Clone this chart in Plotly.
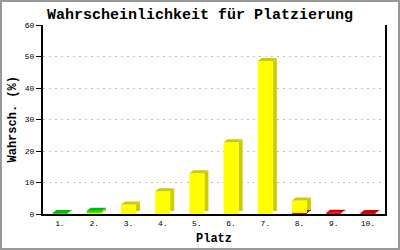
import plotly.graph_objects as go

# ---- data ----
categories = ["1.", "2.", "3.", "4.", "5.", "6.", "7.", "8.", "9.", "10."]
red_vals    = [0.0, 0.0, 0.0, 0.0, 0.0, 0.0, 0.0, 0.3, 0.4, 0.3]
yellow_vals = [0.0, 0.4, 3.0, 7.2, 12.9, 22.8, 48.6, 4.0, 0.0, 0.0]
green_vals  = [0.3, 0.6, 0.0, 0.0, 0.0, 0.0, 0.0, 0.0, 0.0, 0.0]
y_ticks = [0, 10, 20, 30, 40, 50, 60]

title = "Wahrscheinlichkeit für Platzierung"
x_title = "Platz"
y_title = "Wahrsch. (%)"

# ---- layout geometry ----
W, H = 400, 250
ML, MR, MT, MB = 43, 15, 25, 36
PW, PH = W - ML - MR, H - MT - MB
YMAX = 60
bar_w = 0.44
dx = 4 / (PW / len(categories))   # depth offset, category units
dy = 3 / (PH / YMAX)              # depth offset, value units

series = [
    (red_vals, "#ff0000", "#cc0000"),
    (yellow_vals, "#ffff00", "#cccc00"),
    (green_vals, "#00ee00", "#00bb00"),
]

fig = go.Figure()
base = [0.0] * len(categories)
for vals, front_col, dark_col in series:
    fx, fy, sx, sy, tx, ty = [], [], [], [], [], []
    for i, v in enumerate(vals):
        if v <= 0:
            continue
        c = i + 1
        x0, x1 = c - bar_w / 2, c + bar_w / 2
        y0, y1 = base[i], base[i] + v
        fx += [x0, x1, x1, x0, x0, None]
        fy += [y0, y0, y1, y1, y0, None]
        sx += [x1, x1 + dx, x1 + dx, x1, x1, None]
        sy += [y0 + dy, y0 + dy, y1 + dy, y1, y0, None]
        tx += [x0, x1, x1 + dx, x0 + dx, x0, None]
        ty += [y1, y1, y1 + dy, y1 + dy, y1, None]
        base[i] = y1
    for px, py, col in ((sx, sy, dark_col), (fx, fy, front_col), (tx, ty, dark_col)):
        if px:
            fig.add_trace(go.Scatter(x=px, y=py, mode="lines", fill="toself",
                                     fillcolor=col, line=dict(width=0, color=col),
                                     hoverinfo="skip", showlegend=False))

mono = "Liberation Mono, DejaVu Sans Mono, monospace"

fig.update_layout(
    width=W, height=H,
    margin=dict(l=ML, r=MR, t=MT, b=MB, pad=0),
    paper_bgcolor="white", plot_bgcolor="white",
    showlegend=False,
    title=dict(text="<b>" + title + "</b>", x=0.5, xref="container", xanchor="center",
               y=1 - 14 / H, yref="container", yanchor="middle",
               font=dict(family=mono, size=15, color="black")),
    xaxis=dict(range=[0.5, len(categories) + 0.5], tickmode="array",
               tickvals=list(range(1, len(categories) + 1)), ticktext=categories,
               showline=True, linecolor="black", linewidth=2, showgrid=False,
               zeroline=False, ticks="", fixedrange=True,
               tickfont=dict(family=mono, size=8, color="black")),
    yaxis=dict(range=[0, YMAX], tickmode="array", tickvals=y_ticks,
               showline=True, linecolor="black", linewidth=2, mirror=True,
               ticks="outside", ticklen=5, tickcolor="black", tickwidth=1,
               showgrid=True, gridcolor="#c0c0c0", griddash="2px,4px", gridwidth=1,
               zeroline=False, fixedrange=True,
               tickfont=dict(family=mono, size=8, color="black")),
    annotations=[
        dict(text="<b>" + x_title + "</b>", xref="paper", yref="paper",
             x=0.5, y=-(239 - (MT + PH)) / PH, xanchor="center", yanchor="middle",
             showarrow=False, font=dict(family=mono, size=12, color="black")),
        dict(text="<b>" + y_title + "</b>", xref="paper", yref="paper",
             x=(12 - ML) / PW, y=0.5, xanchor="center", yanchor="middle",
             textangle=-90, showarrow=False,
             font=dict(family=mono, size=12, color="black")),
    ],
    shapes=[dict(type="rect", xref="paper", yref="paper",
                 x0=(1 - ML) / PW, x1=(W - 1 - ML) / PW,
                 y0=-(H - 1 - MT - PH) / PH, y1=1 + (MT - 1) / PH,
                 line=dict(color="#999999", width=2), layer="below")],
)

fig.write_html("out.html")
